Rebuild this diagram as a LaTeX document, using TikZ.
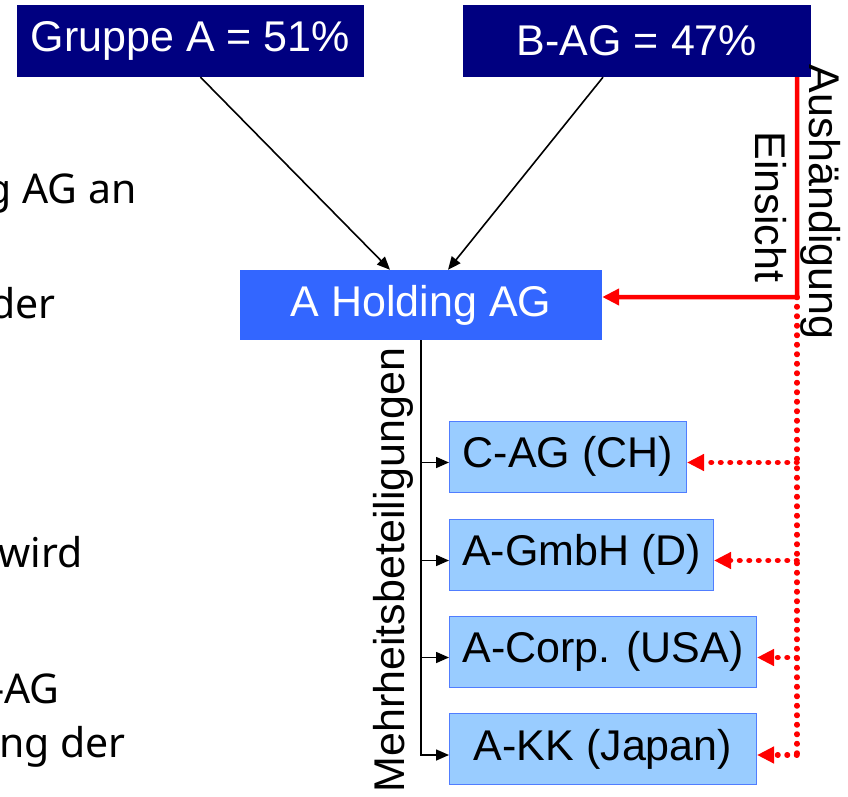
\documentclass[tikz,border=0pt]{standalone}
\usepackage{fontspec}
\setmainfont{Liberation Sans}
\newfontfamily\sidefont{Noto Sans}
\usetikzlibrary{arrows.meta}
\definecolor{topblue}{RGB}{0,0,128}
\definecolor{holdblue}{RGB}{51,102,255}
\definecolor{subfill}{RGB}{153,204,255}
\definecolor{subline}{RGB}{80,125,255}

\begin{document}
\begin{tikzpicture}[x=1pt,y=-1pt,
	topbox/.style={fill=topblue,text=white,minimum height=72pt,inner sep=0pt,font=\fontsize{43}{50}\selectfont},
	holdbox/.style={fill=holdblue,text=white,minimum width=362pt,minimum height=70pt,inner sep=0pt,font=\fontsize{43}{50}\selectfont},
	subbox/.style={draw=subline,line width=1pt,fill=subfill,minimum height=71pt,inner sep=0pt,anchor=west,font=\fontsize{43}{50}\selectfont},
	sidelabel/.style={inner sep=0pt,anchor=base,font=\fontsize{43}{50}\selectfont},
	sidetext/.style={inner sep=0pt,anchor=base east,font=\sidefont\fontsize{41}{48}\selectfont},
	blackarr/.style={line width=1.6pt,-{Triangle[length=13pt,width=11pt]}},
	redarr/.style={red,line width=4.5pt,-{Triangle[length=17pt,width=16pt]}},
	dotline/.style={red,line width=5.5pt,line cap=round,dash pattern=on 0.5pt off 9pt},
	dotarr/.style={dotline,-{Triangle[length=17pt,width=16pt,line cap=butt]}}]
	\useasboundingbox (0,0) rectangle (848,797);
	% text cut off on the left
	\node[sidetext] (t1) at (137,203) {g AG an};
	\node[sidetext] (t2) at (56,318) {der};
	\node[sidetext] (t3) at (83,567) {wird};
	\node[sidetext] (t4) at (60,703) {-AG};
	\node[sidetext] (t5) at (126,757) {ng der};
	% shareholders and holding
	\node[topbox,minimum width=347pt] (gruppe) at (190.5,41) {Gruppe A = 51\%};
	\node[topbox,minimum width=348pt] (bag) at (637,41) {B-AG = 47\%};
	\node[holdbox] (holding) at (421,305) {A Holding AG};
	\draw [blackarr] ([xshift=10pt]gruppe.south) -- ([xshift=-31pt]holding.north);
	\draw [blackarr] ([xshift=-34pt]bag.south) -- ([xshift=27pt]holding.north);
	% subsidiaries
	\node[subbox,minimum width=237pt] (cag) at (449,456.5) {C-AG (CH)};
	\node[subbox,minimum width=264pt] (gmbh) at (449,554.5) {A-GmbH (D)};
	\node[subbox,minimum width=307pt] (corp) at (449,651.5) {A-Corp. (USA)};
	\node[subbox,minimum width=307pt] (kk) at (449,749) {A-KK (Japan)};
	\foreach \s in {cag,gmbh,corp,kk}
		\draw [blackarr] (holding.south) |- ([yshift=-6pt]\s.west);
	% Aushaendigung / Einsicht
	\coordinate (redtop) at ([xshift=-14pt]bag.south east);
	\coordinate (redknee) at (797,297);
	\draw [redarr] (redtop) -- (redknee) -- (redknee -| holding.east);
	\coordinate (dotend) at (797,757);
	\draw [dotline] (redknee) -- (dotend);
	\foreach \s in {cag,gmbh,corp,kk}{
		\coordinate (\s in) at ([yshift=-6pt]\s.east);
		\draw [dotarr] (redknee |- \s in) -- (\s in);
	}
	\node[sidelabel,rotate=90] (mehr) at (404,570) {Mehrheitsbeteiligungen};
	\node[sidelabel,rotate=-90] (aus) at (809,202) {Aushändigung};
	\node[sidelabel,rotate=-90] (ein) at (755,207) {Einsicht};
\end{tikzpicture}
\end{document}
